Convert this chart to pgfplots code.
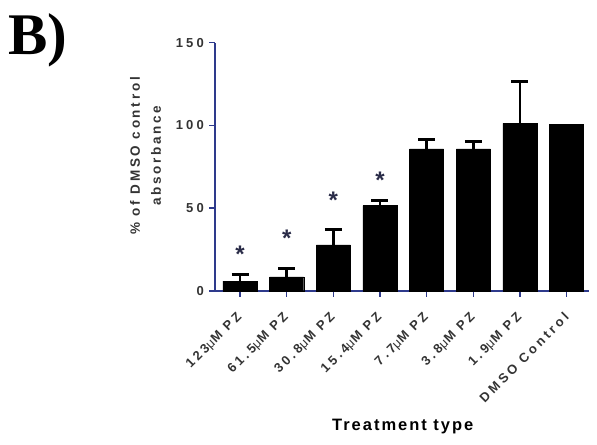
\documentclass[border=0pt]{standalone}
\usepackage{pgfplots}
\pgfplotsset{compat=1.18}
\usepackage{fontspec}
\setmainfont{Liberation Sans}
\newfontfamily\tickfont{Liberation Sans}[LetterSpace=24]
\newfontfamily\ylabfont{Liberation Sans}[LetterSpace=20]
\newfontfamily\xlabfont{Liberation Sans}[LetterSpace=12]
\newfontfamily\titlefont{Liberation Serif}
\definecolor{axisblue}{HTML}{2E3A8C}
\definecolor{labelgray}{HTML}{333333}
\definecolor{stargray}{HTML}{2A2C48}

\begin{document}
\begin{tikzpicture}[x=1bp,y=1bp]
\path[use as bounding box] (0,0) rectangle (597,445);
\node[anchor=base west, inner sep=0] at (8,390) {\titlefont\bfseries\fontsize{59bp}{65bp}\selectfont B)};
\begin{axis}[
  at={(215bp,154bp)}, anchor=south west,
  scale only axis, width=374bp, height=248.3bp,
  xmin=-0.536, xmax=7.48, ymin=0, ymax=150,
  axis x line*=bottom, axis y line*=left,
  axis line style={axisblue, line width=1.6bp, -},
  tick style={axisblue, line width=1.6bp},
  tick align=outside, major tick length=6bp,
  xtick={0,...,7},
  xticklabels={123{\mdseries μ}M PZ, 61.5{\mdseries μ}M PZ, 30.8{\mdseries μ}M PZ, 15.4{\mdseries μ}M PZ,
    7.7{\mdseries μ}M PZ, 3.8{\mdseries μ}M PZ, 1.9{\mdseries μ}M PZ, DMSO Control},
  ytick={0,50,100,150},
  ticklabel style={font=\tickfont\bfseries\fontsize{13bp}{15bp}\selectfont, text=labelgray},
  /pgf/number format/assume math mode=true,
  xticklabel style={xshift=0bp, yshift=-18bp, rotate=45, anchor=east, inner sep=0pt},
  yticklabel style={inner sep=5bp},
  xlabel={Treatment type},
  xlabel style={at={(axis description cs:0.502,-0.544)}, anchor=center,
    font=\xlabfont\bfseries\fontsize{16.5bp}{18bp}\selectfont, text=black},
  ylabel={\% of DMSO control\\absorbance},
  ylabel style={at={(axis description cs:-0.186,0.544)}, anchor=center, align=center,
    font=\ylabfont\bfseries\fontsize{13.5bp}{21bp}\selectfont, text=labelgray},
  clip=false,
]
% treated wells: mean absorbance with upper SD bars
\addplot[ybar, bar shift=0pt, bar width=0.73, fill=black, draw=black,
  error bars/.cd, y dir=plus, y explicit,
  error bar style={line width=2.6bp, black},
  error mark options={rotate=90, mark size=8.5bp, line width=3bp, black}]
  coordinates {
  (0,6.0)   +- (0,4.1)
  (1,8.5)   +- (0,4.8)
  (2,27.8)  +- (0,9.1)
  (3,51.6)  +- (0,2.8)
  (4,85.9)  +- (0,5.4)
  (5,85.9)  +- (0,4.4)
  (6,101.2) +- (0,25.1)
  };
% vehicle control
\addplot[ybar, bar shift=0pt, bar width=0.73, fill=black, draw=black]
  coordinates {(7,100.8)};
% significance markers
\addplot[draw=none, mark=none,
  nodes near coords={\raisebox{-0.5em}{*}},
  every node near coord/.append style={anchor=center, inner sep=0,
    font=\bfseries\fontsize{24bp}{24bp}\selectfont, text=stargray}]
  coordinates {(0,22.4) (1,31.9) (2,55) (3,67)};
\end{axis}
\end{tikzpicture}
\end{document}
